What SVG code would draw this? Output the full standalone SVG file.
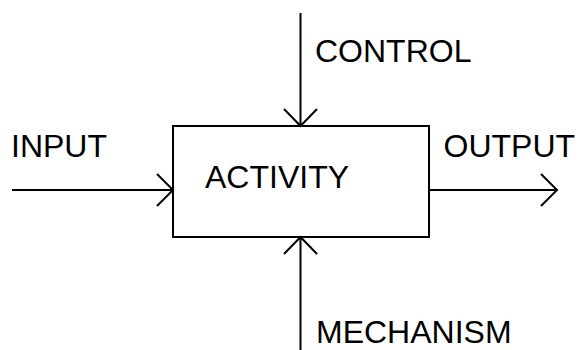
<svg xmlns="http://www.w3.org/2000/svg" width="579" height="350" viewBox="0 0 579 350">
<style>
.ln{stroke:#000;stroke-width:2;fill:none}
.t{font-family:"Liberation Sans",Arial,sans-serif;font-size:32px;fill:#000}
</style>
<rect width="579" height="350" fill="#fff"/>
<g id="activity">
<rect class="ln" x="173" y="126" width="256" height="111"/>
<text class="t" x="205" y="188">ACTIVITY</text>
</g>
<g id="input"><text class="t" x="11" y="157">INPUT</text></g>
<g id="output"><text class="t" x="443.5" y="157">OUTPUT</text></g>
<g id="control"><text class="t" x="315" y="62">CONTROL</text></g>
<g id="mechanism"><text class="t" x="316" y="343">MECHANISM</text></g>
<g id="connectors">
<path class="ln" d="M12 190H172M157 174L173 190L157 206"/>
<path class="ln" d="M429 190H557M541 174L557 190L541 206"/>
<path class="ln" d="M300.5 13V125M284 109L300.5 126L317 109"/>
<path class="ln" d="M300.5 350V238M284 254L300.5 237L317 254"/>
</g>
</svg>
